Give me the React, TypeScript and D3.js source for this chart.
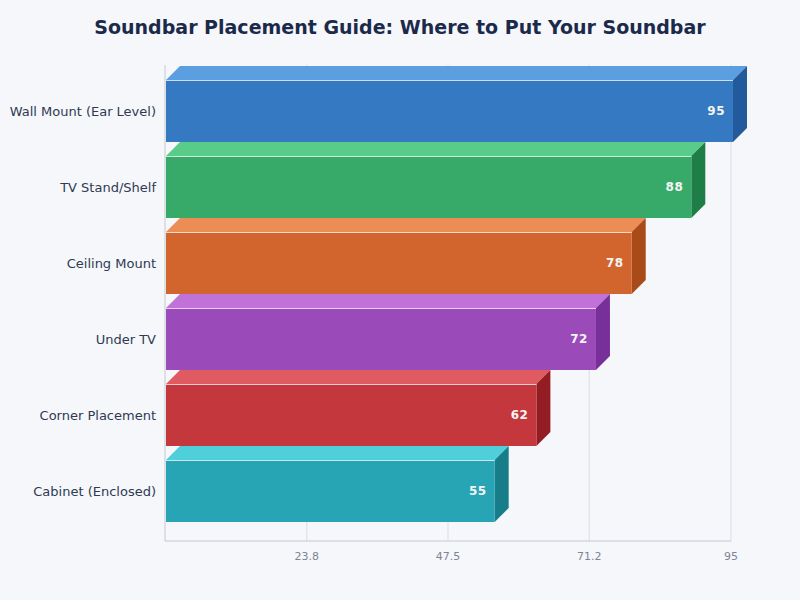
import { useRef, useEffect } from 'react';
import * as d3 from 'd3';

const categories = [
  'Wall Mount (Ear Level)',
  'TV Stand/Shelf',
  'Ceiling Mount',
  'Under TV',
  'Corner Placement',
  'Cabinet (Enclosed)',
];
const scores = [95, 88, 78, 72, 62, 55];
const tickValues = [23.8, 47.5, 71.2, 95];

const frontColors = ['#3479c1', '#37aa69', '#d2652e', '#9a4bb9', '#c4373d', '#27a5b4'];
const topColors = ['#5b9fe0', '#59cc89', '#ec8d55', '#c072d8', '#e05b61', '#4fcfda'];
const sideColors = ['#235a9b', '#1f7e45', '#a84b18', '#77309a', '#941d23', '#167d89'];

export default function App() {
  const svgRef = useRef<SVGSVGElement>(null);
  const width = 800;
  const height = 600;

  useEffect(() => {
    if (!svgRef.current) return;
    const svg = d3.select(svgRef.current);
    svg.selectAll('*').remove();

    const font = '"DejaVu Sans", Verdana, sans-serif';
    const left = 165;
    const right = 731;
    const top = 65;
    const bottom = 541;
    const depth = 14;

    svg.append('rect').attr('width', width).attr('height', height).attr('fill', '#f5f7fb');

    svg.append('text')
      .attr('x', width / 2)
      .attr('y', 34)
      .attr('text-anchor', 'middle')
      .attr('font-family', font)
      .attr('font-size', 19)
      .attr('font-weight', 'bold')
      .attr('fill', '#1b2a4a')
      .text('Soundbar Placement Guide: Where to Put Your Soundbar');

    const x = d3.scaleLinear().domain([0, 95]).range([left, right]);
    const xBar = d3.scaleLinear().domain([0, 95]).range([left + 2, right + 2]);
    const y = d3.scaleBand<string>()
      .domain(categories)
      .range([61, bottom])
      .paddingInner(14 / 76)
      .paddingOuter(0.25);

    // Grid
    svg.append('g')
      .selectAll('line')
      .data(tickValues)
      .join('line')
      .attr('x1', (d) => x(d))
      .attr('x2', (d) => x(d))
      .attr('y1', top)
      .attr('y2', bottom)
      .attr('stroke', '#d9dde4')
      .attr('stroke-width', 1);

    // Axis lines
    svg.append('line')
      .attr('x1', left).attr('x2', left)
      .attr('y1', top).attr('y2', bottom)
      .attr('stroke', '#c4c9d1');
    svg.append('line')
      .attr('x1', left).attr('x2', right)
      .attr('y1', bottom).attr('y2', bottom)
      .attr('stroke', '#c4c9d1');

    // Tick labels
    svg.append('g')
      .selectAll('text')
      .data(tickValues)
      .join('text')
      .attr('x', (d) => x(d))
      .attr('y', 560)
      .attr('text-anchor', 'middle')
      .attr('font-family', font)
      .attr('font-size', 11)
      .attr('fill', '#7d8594')
      .text((d) => String(d));

    const bars = svg.append('g');
    categories.forEach((cat, i) => {
      const y0 = y(cat) as number;
      const bh = y.bandwidth();
      const x0 = left + 1;
      const x1 = xBar(scores[i]);
      const g = bars.append('g');

      // top face
      g.append('path')
        .attr('d', `M${x0},${y0} L${x0 + depth},${y0 - depth} L${x1 + depth},${y0 - depth} L${x1},${y0} Z`)
        .attr('fill', topColors[i]);
      // side face
      g.append('path')
        .attr('d', `M${x1},${y0} L${x1 + depth},${y0 - depth} L${x1 + depth},${y0 + bh - depth} L${x1},${y0 + bh} Z`)
        .attr('fill', sideColors[i]);
      // front face
      g.append('rect')
        .attr('x', x0)
        .attr('y', y0)
        .attr('width', x1 - x0)
        .attr('height', bh)
        .attr('fill', frontColors[i]);
      // highlight
      g.append('line')
        .attr('x1', x0).attr('x2', x1)
        .attr('y1', y0 + 0.5).attr('y2', y0 + 0.5)
        .attr('stroke', '#ffffff')
        .attr('stroke-opacity', 0.75)
        .attr('stroke-width', 1);

      g.append('text')
        .attr('x', x1 - 8)
        .attr('y', y0 + bh / 2)
        .attr('dy', '0.35em')
        .attr('text-anchor', 'end')
        .attr('font-family', font)
        .attr('font-size', 12)
        .attr('font-weight', 'bold')
        .attr('letter-spacing', 0.5)
        .attr('fill', '#f4f4f4')
        .text(String(scores[i]));

      svg.append('text')
        .attr('x', 156)
        .attr('y', y0 + bh / 2)
        .attr('dy', '0.35em')
        .attr('text-anchor', 'end')
        .attr('font-family', font)
        .attr('font-size', 13)
        .attr('fill', '#2f3a52')
        .text(cat);
    });
  }, []);

  return (
    <svg
      ref={svgRef}
      width={width}
      height={height}
      style={{ display: 'block', position: 'fixed', left: 0, top: 0 }}
    />
  );
}
